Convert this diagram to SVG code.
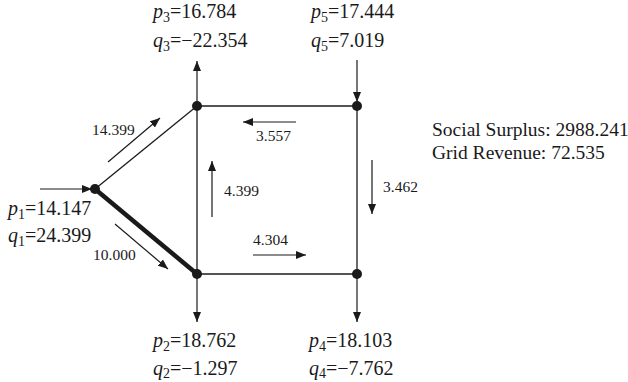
<svg xmlns="http://www.w3.org/2000/svg" width="628" height="382" viewBox="0 0 628 382">
<style>
text{font-family:"Liberation Serif","Times New Roman",serif;fill:#1a1a1a}
.lab{font-size:20px}
.sum{font-size:19.5px}
.flow{font-size:15.5px}
.sub{font-size:14px}
.ln{stroke:#1a1a1a;stroke-width:1.3;fill:none}
.ar{stroke:#1a1a1a;stroke-width:1.2;fill:none;marker-end:url(#ah)}
.nd{fill:#1a1a1a}
</style>
<defs>
<marker id="ah" viewBox="0 0 10 8" refX="10" refY="4" markerWidth="10" markerHeight="8" markerUnits="userSpaceOnUse" orient="auto">
<path d="M0,0 L10,4 L0,8 Z" fill="#1a1a1a"/>
</marker>
</defs>
<g id="connectors">
<line class="ln" x1="95" y1="189" x2="197" y2="106"/>
<line x1="95" y1="189" x2="197" y2="274" stroke="#1a1a1a" stroke-width="4.5"/>
<line class="ln" x1="197" y1="106" x2="357" y2="106"/>
<line class="ln" x1="197" y1="106" x2="197" y2="274"/>
<line class="ln" x1="357" y1="106" x2="357" y2="274"/>
<line class="ln" x1="197" y1="274" x2="357" y2="274"/>
<line class="ar" x1="40" y1="189" x2="92" y2="189"/>
<line class="ar" x1="197" y1="106" x2="197" y2="61"/>
<line class="ar" x1="357" y1="60" x2="357" y2="102"/>
<line class="ar" x1="197" y1="274" x2="197" y2="322"/>
<line class="ar" x1="357" y1="274" x2="357" y2="322"/>
<line class="ar" x1="108" y1="162" x2="160" y2="118"/>
<line class="ar" x1="115" y1="224" x2="168" y2="269"/>
<line class="ar" x1="296" y1="122" x2="243" y2="122"/>
<line class="ar" x1="212" y1="217" x2="212" y2="161"/>
<line class="ar" x1="253" y1="255" x2="306" y2="255"/>
<line class="ar" x1="372" y1="160" x2="372" y2="214"/>
</g>
<g id="flow-labels">
<text class="flow" x="92" y="134.5">14.399</text>
<text class="flow" x="256" y="141">3.557</text>
<text class="flow" x="224" y="196">4.399</text>
<text class="flow" x="253" y="245">4.304</text>
<text class="flow" x="93" y="259.5">10.000</text>
<text class="flow" x="383" y="192">3.462</text>
</g>
<g id="node1">
<circle class="nd" cx="95" cy="189" r="5"/>
<text class="lab" x="8" y="215"><tspan font-style="italic">p</tspan><tspan class="sub" dy="4">1</tspan><tspan dy="-4">=14.147</tspan></text>
<text class="lab" x="8" y="241.5"><tspan font-style="italic">q</tspan><tspan class="sub" dy="4">1</tspan><tspan dy="-4">=24.399</tspan></text>
</g>
<g id="node2">
<circle class="nd" cx="197" cy="274" r="5"/>
<text class="lab" x="153" y="347"><tspan font-style="italic">p</tspan><tspan class="sub" dy="4">2</tspan><tspan dy="-4">=18.762</tspan></text>
<text class="lab" x="153" y="375"><tspan font-style="italic">q</tspan><tspan class="sub" dy="3">2</tspan><tspan dy="-3">=−1.297</tspan></text>
</g>
<g id="node3">
<circle class="nd" cx="197" cy="106" r="5"/>
<text class="lab" x="153" y="18"><tspan font-style="italic">p</tspan><tspan class="sub" dy="4">3</tspan><tspan dy="-4">=16.784</tspan></text>
<text class="lab" x="153" y="46.5"><tspan font-style="italic">q</tspan><tspan class="sub" dy="4">3</tspan><tspan dy="-4">=−22.354</tspan></text>
</g>
<g id="node4">
<circle class="nd" cx="357" cy="274" r="5"/>
<text class="lab" x="309" y="347"><tspan font-style="italic">p</tspan><tspan class="sub" dy="4">4</tspan><tspan dy="-4">=18.103</tspan></text>
<text class="lab" x="309" y="375"><tspan font-style="italic">q</tspan><tspan class="sub" dy="3">4</tspan><tspan dy="-3">=−7.762</tspan></text>
</g>
<g id="node5">
<circle class="nd" cx="357" cy="106" r="5"/>
<text class="lab" x="311" y="18"><tspan font-style="italic">p</tspan><tspan class="sub" dy="4">5</tspan><tspan dy="-4">=17.444</tspan></text>
<text class="lab" x="311" y="46.5"><tspan font-style="italic">q</tspan><tspan class="sub" dy="4">5</tspan><tspan dy="-4">=7.019</tspan></text>
</g>
<g id="summary">
<text class="sum" x="432" y="136">Social Surplus: 2988.241</text>
<text class="sum" x="432" y="158.5">Grid Revenue: 72.535</text>
</g>
</svg>
